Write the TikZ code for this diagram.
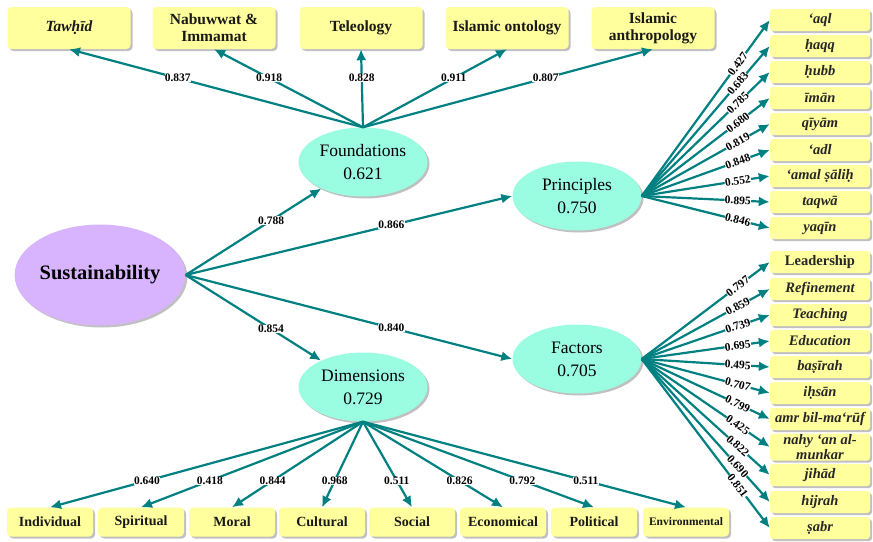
\documentclass[tikz,border=0pt]{standalone}
\usepackage{fontspec}
\setmainfont{Liberation Serif}
\usetikzlibrary{arrows.meta,shapes.geometric,shadows}

\definecolor{linkteal}{RGB}{0,128,128}
\definecolor{latentmint}{RGB}{154,253,226}
\definecolor{rootlilac}{RGB}{216,180,254}
\definecolor{itemyellow}{RGB}{255,255,158}

\tikzset{
  softshadow/.style={drop shadow={shadow xshift=2pt, shadow yshift=-2pt, fill=black!45, opacity=0.55}},
  topbox/.style={fill=itemyellow, rounded corners=4pt, minimum width=123pt, minimum height=42pt, inner sep=1pt, align=center, text=black!90, font=\fontsize{15.5}{17}\selectfont\bfseries, softshadow},
  sidebox/.style={fill=itemyellow, rounded corners=3pt, minimum width=100pt, minimum height=22pt, inner sep=0pt, align=center, text=black!85, font=\fontsize{14.5}{13}\selectfont\bfseries\itshape, softshadow},
  footbox/.style={fill=itemyellow, rounded corners=4pt, minimum width=86pt, minimum height=29pt, inner sep=0pt, text=black!90, font=\fontsize{14}{15}\selectfont\bfseries, softshadow},
  latent/.style={ellipse, fill=latentmint, minimum width=129pt, minimum height=69pt, inner sep=0pt, align=center, font=\fontsize{17.5}{23}\selectfont, softshadow},
  rootvar/.style={ellipse, fill=rootlilac, minimum width=170pt, minimum height=101pt, inner sep=0pt, font=\fontsize{20.5}{22}\selectfont\bfseries, softshadow},
  link/.style={draw=linkteal, line width=2.2pt, -{Latex[length=11pt,width=10pt]}},
  val/.style={fill=white, inner sep=0.3pt, font=\fontsize{11.5}{12}\selectfont\bfseries},
  sval/.style={val, sloped, pos=0.75}
}

\begin{document}
\begin{tikzpicture}[x=1pt, y=-1pt]
        \useasboundingbox (0,0) rectangle (873,541);

        \node[topbox] (tawhid) at (69,28) {\itshape Tawḥīd};
        \node[topbox] (nabuwwat) at (214,28) {Nabuwwat \&\\Immamat};
        \node[topbox] (teleology) at (361,28) {Teleology};
        \node[topbox] (ontology) at (507,28) {Islamic ontology};
        \node[topbox] (anthropology) at (653,28) {Islamic\\anthropology};

        \node[latent] (fnd) at (363,162) {Foundations\\0.621};
        \node[latent] (dim) at (363,387) {Dimensions\\0.729};
        \node[latent] (prc) at (577,196) {Principles\\0.750};
        \node[latent] (fac) at (577,359) {Factors\\0.705};
        \node[rootvar] (sus) at (100,275) {Sustainability};

        \node[sidebox] (aql) at (820,20) {‘aql};
        \node[sidebox] (haqq) at (820,46) {ḥaqq};
        \node[sidebox] (hubb) at (820,72) {ḥubb};
        \node[sidebox] (iman) at (820,98) {īmān};
        \node[sidebox] (qiyam) at (820,124) {qīyām};
        \node[sidebox] (adl) at (820,150) {‘adl};
        \node[sidebox] (amal) at (820,176) {‘amal ṣāliḥ};
        \node[sidebox] (taqwa) at (820,202) {taqwā};
        \node[sidebox] (yaqin) at (820,228) {yaqīn};

        \node[sidebox] (leadership) at (820,262) {\upshape Leadership};
        \node[sidebox] (refinement) at (820,289) {Refinement};
        \node[sidebox] (teaching) at (820,315) {Teaching};
        \node[sidebox] (education) at (820,341) {Education};
        \node[sidebox] (basirah) at (820,367) {baṣīrah};
        \node[sidebox] (ihsan) at (820,393) {iḥsān};
        \node[sidebox] (amr) at (820,419) {amr bil-ma‘rūf};
        \node[sidebox, minimum height=27pt] (nahy) at (820,447) {nahy ‘an al-\\munkar};
        \node[sidebox] (jihad) at (820,475) {jihād};
        \node[sidebox] (hijrah) at (820,502) {hijrah};
        \node[sidebox] (sabr) at (820,528) {ṣabr};

        \node[footbox] (individual) at (50,522) {Individual};
        \node[footbox] (spiritual) at (141,522) {Spiritual};
        \node[footbox] (moral) at (232,522) {Moral};
        \node[footbox] (cultural) at (322,522) {Cultural};
        \node[footbox] (social) at (412,522) {Social};
        \node[footbox] (economical) at (503,522) {Economical};
        \node[footbox] (political) at (594,522) {Political};
        \node[footbox, font=\fontsize{11.5}{13}\selectfont\bfseries] (environmental) at (686,522) {Environmental};

        \draw[link] (sus.east) -- node[val, pos=0.63] {0.788} (fnd);
        \draw[link] (sus.east) -- node[val, pos=0.63] {0.866} (prc.west);
        \draw[link] (sus.east) -- node[val, pos=0.63] {0.854} (dim);
        \draw[link] (sus.east) -- node[val, pos=0.63] {0.840} (fac.west);

        \draw[link] (fnd.north) -- node[val, pos=0.63] {0.837} (tawhid.south);
        \draw[link] (fnd.north) -- node[val, pos=0.63] {0.918} (nabuwwat.south);
        \draw[link] (fnd.north) -- node[val, pos=0.63] {0.828} (teleology.south);
        \draw[link] (fnd.north) -- node[val, pos=0.63] {0.911} (ontology.south);
        \draw[link] (fnd.north) -- node[val, pos=0.63] {0.807} (anthropology.south);

        \draw[link] (dim.south) -- node[val, pos=0.69] {0.640} (individual.north);
        \draw[link] (dim.south) -- node[val, pos=0.69] {0.418} (spiritual.north);
        \draw[link] (dim.south) -- node[val, pos=0.69] {0.844} (moral.north);
        \draw[link] (dim.south) -- node[val, pos=0.69] {0.968} (cultural.north);
        \draw[link] (dim.south) -- node[val, pos=0.69] {0.511} (social.north);
        \draw[link] (dim.south) -- node[val, pos=0.69] {0.826} (economical.north);
        \draw[link] (dim.south) -- node[val, pos=0.69] {0.792} (political.north);
        \draw[link] (dim.south) -- node[val, pos=0.69] {0.511} (environmental.north);

        \draw[link] (prc.east) -- node[sval] {0.427} (aql.west);
        \draw[link] (prc.east) -- node[sval] {0.683} (haqq.west);
        \draw[link] (prc.east) -- node[sval] {0.785} (hubb.west);
        \draw[link] (prc.east) -- node[sval] {0.680} (iman.west);
        \draw[link] (prc.east) -- node[sval] {0.819} (qiyam.west);
        \draw[link] (prc.east) -- node[sval] {0.848} (adl.west);
        \draw[link] (prc.east) -- node[sval] {0.552} (amal.west);
        \draw[link] (prc.east) -- node[sval] {0.895} (taqwa.west);
        \draw[link] (prc.east) -- node[sval] {0.846} (yaqin.west);

        \draw[link] (fac.east) -- node[sval] {0.797} (leadership.west);
        \draw[link] (fac.east) -- node[sval] {0.859} (refinement.west);
        \draw[link] (fac.east) -- node[sval] {0.739} (teaching.west);
        \draw[link] (fac.east) -- node[sval] {0.695} (education.west);
        \draw[link] (fac.east) -- node[sval] {0.495} (basirah.west);
        \draw[link] (fac.east) -- node[sval] {0.707} (ihsan.west);
        \draw[link] (fac.east) -- node[sval] {0.799} (amr.west);
        \draw[link] (fac.east) -- node[sval] {0.425} (nahy.west);
        \draw[link] (fac.east) -- node[sval] {0.822} (jihad.west);
        \draw[link] (fac.east) -- node[sval] {0.690} (hijrah.west);
        \draw[link] (fac.east) -- node[sval] {0.851} (sabr.west);
\end{tikzpicture}
\end{document}
